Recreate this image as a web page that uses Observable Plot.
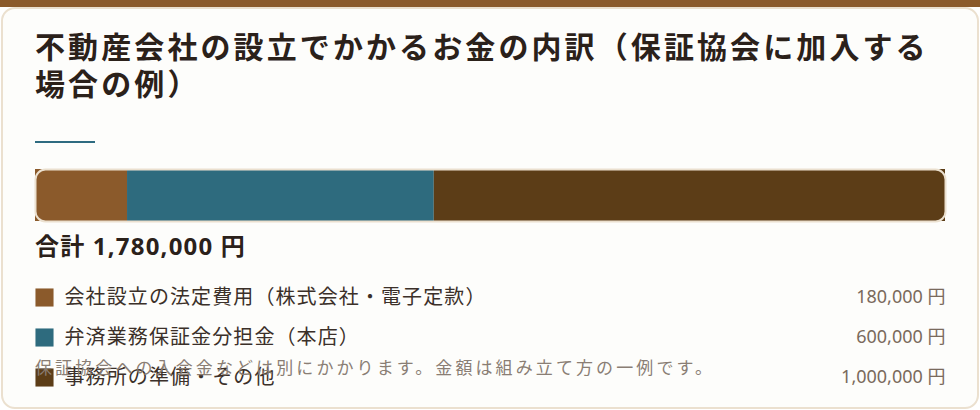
<!DOCTYPE html>
<html lang="ja">
<head>
<meta charset="utf-8">
<script src="https://cdn.jsdelivr.net/npm/d3@7"></script>
<script src="https://cdn.jsdelivr.net/npm/@observablehq/plot@0.6"></script>
<style>
  html, body { margin: 0; padding: 0; background: #ffffff; }
  body { width: 980px; height: 410px; position: relative; overflow: hidden;
         font-family: "Noto Sans CJK JP", "Noto Sans", sans-serif; }
  #band { position: absolute; left: 0; top: 0; width: 980px; height: 7px; background: #8b5a2b; }
  #card { position: absolute; left: 1px; top: 7px; width: 974px; height: 398px;
          border: 2px solid #ebe0cf; border-radius: 14px; background: #fdfdfb; }
  #title { position: absolute; left: 35px; top: 27px; margin: 0; font-size: 30px; font-weight: 700;
           line-height: 37px; letter-spacing: 3.1px; color: #2b211a; white-space: nowrap; }
  #rule { position: absolute; left: 35px; top: 141px; width: 60px; height: 2px; background: #2e6b80; }
  #bar { position: absolute; left: 0; top: 161px; }
  #total { position: absolute; left: 35px; top: 231px; font-size: 24px; font-weight: 700;
           font-family: "Noto Sans", "Noto Sans CJK JP", sans-serif;
           letter-spacing: 1.2px; color: #2b211a; line-height: 30px; white-space: nowrap; }
  #legend { position: absolute; left: 0; top: 277px; }
  #note { position: absolute; left: 35px; top: 354px; font-size: 17px; letter-spacing: 3.1px;
          color: #8a7e74; line-height: 26px; white-space: nowrap; }
</style>
</head>
<body>
<div id="band"></div>
<div id="card"></div>
<h1 id="title">不動産会社の設立でかかるお金の内訳（保証協会に加入する<br>場合の例）</h1>
<div id="rule"></div>
<div id="bar"></div>
<div id="total"></div>
<div id="legend"></div>
<div id="note">保証協会への入会金などは別にかかります。金額は組み立て方の一例です。</div>
<script>
const categories = ["会社設立の法定費用（株式会社・電子定款）", "弁済業務保証金分担金（本店）", "事務所の準備・その他"];
const values = [180000, 600000, 1000000];
const colors = ["#8b5a2b", "#2e6b7e", "#5c3d17"];

const rows = categories.map((c, i) => ({category: c, value: values[i]}));
const total = d3.sum(values);
const fmt = d3.format(",");

const barPlot = Plot.plot({
  width: 980,
  height: 62,
  marginLeft: 35,
  marginRight: 35,
  marginTop: 8,
  marginBottom: 2,
  style: {background: "transparent"},
  x: {domain: [0, total], axis: null},
  y: {axis: null},
  color: {domain: categories, range: colors},
  marks: [
    Plot.barX(rows, Plot.stackX({x: "value", fill: "category", order: null, inset: 0})),
    Plot.frame({rx: 10, ry: 10, stroke: "#ebe0cf", strokeWidth: 2})
  ]
});
document.getElementById("bar").append(barPlot);

document.getElementById("total").textContent = `合計 ${fmt(total)} 円`;

const legendPlot = Plot.plot({
  width: 980,
  height: 120,
  margin: 0,
  style: {fontFamily: '"Noto Sans CJK JP", "Noto Sans", sans-serif', background: "transparent"},
  y: {type: "band", domain: categories, axis: null, padding: 0},
  color: {domain: categories, range: colors},
  marks: [
    Plot.dot(rows, {y: "category", fill: "category", symbol: "square", r: 10.2, frameAnchor: "left", dx: 44, stroke: null}),
    Plot.text(rows, {y: "category", text: "category", frameAnchor: "left", dx: 64, textAnchor: "start",
      fontSize: 20, fill: "#3b3029"}),
    Plot.text(rows, {y: "category", text: d => `${fmt(d.value)} 円`, frameAnchor: "right", dx: -35, textAnchor: "end",
      fontSize: 18, fontFamily: '"Noto Sans", "Noto Sans CJK JP", sans-serif', fill: "#7a6a5c"})
  ]
});
document.getElementById("legend").append(legendPlot);
// letter spacing for label text
const textGroups = legendPlot.querySelectorAll("g[aria-label='text']");
if (textGroups[0]) textGroups[0].setAttribute("letter-spacing", "1.1");
</script>
</body>
</html>
